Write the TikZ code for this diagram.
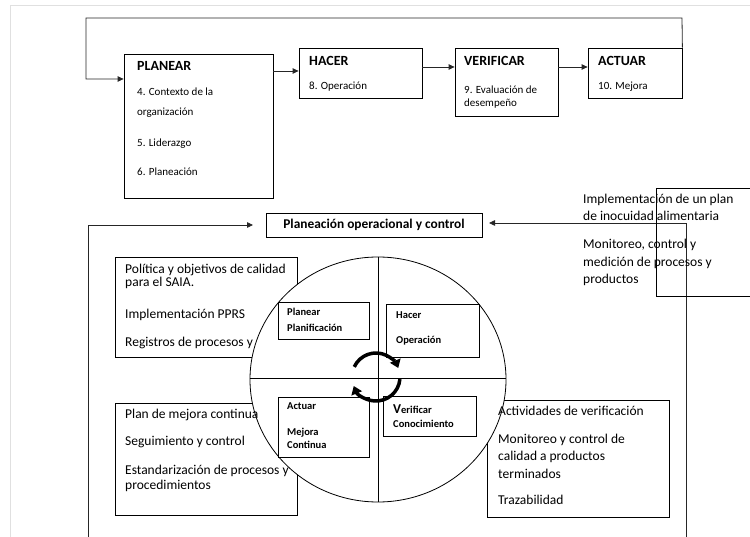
\documentclass[tikz,border=0pt]{standalone}
\usepackage{fontspec}
\setmainfont{Carlito}
\usetikzlibrary{arrows.meta,fit,shapes.geometric}
\begin{document}
\begin{tikzpicture}[x=1pt,y=-1pt,
  box/.style={draw=black,line width=0.8pt,inner sep=0pt},
  wbox/.style={box,fill=white},
  conn/.style={draw=black!85,line width=0.8pt},
  arr/.style={conn,-{Triangle[length=6pt,width=5.5pt]}},
  ttl/.style={anchor=mid west,inner sep=0pt,font=\fontsize{14}{16}\selectfont\bfseries},
  itm/.style={anchor=mid west,inner sep=0pt,font=\fontsize{11}{12}\selectfont},
  txt/.style={anchor=mid west,inner sep=0pt,font=\fontsize{13.5}{15}\selectfont},
  inl/.style={anchor=mid west,inner sep=0pt,font=\fontsize{10.5}{12}\selectfont\bfseries},
  carr/.style={draw=black,line width=3.5pt,-{Triangle[length=8pt,width=11pt]}}
]
\useasboundingbox (0,0) rectangle (750,537);
% page frame
\draw[black!12,line width=1pt] (10,537) -- (10,6) -- (750,6);

% ---------- top row ----------
\node[box,fit={(124,54) (273,198)}] (planear) {};
\node[box,fit={(299,48) (422,98)}] (hacer) {};
\node[box,fit={(455,48) (558,116)}] (verificar) {};
\node[box,fit={(588,48) (682,98)}] (actuar) {};

\node[ttl] (pT) at (137,68) {PLANEAR};
\node[itm] (p1) at (137,93) {4. Contexto de la};
\node[itm] (p2) at (137,113) {organización};
\node[itm] (p3) at (137,144) {5. Liderazgo};
\node[itm] (p4) at (137,173) {6. Planeación};

\node[ttl] (hT) at (309,63) {HACER};
\node[itm] (h1) at (309,87) {8. Operación};

\node[ttl] (vT) at (464,63) {VERIFICAR};
\node[itm] (v1) at (464,91) {9. Evaluación de};
\node[itm] (v2) at (464,104) {desempeño};

\node[ttl] (aT) at (598,63) {ACTUAR};
\node[itm] (a1) at (598,87) {10. Mejora};

\coordinate (ph) at (0,71);
\coordinate (hv) at (0,67);
\draw[arr] (planear.east |- ph) -- (hacer.west |- ph);
\draw[arr] (hacer.east |- hv) -- (verificar.west |- hv);
\draw[arr] (verificar.east |- hv) -- (actuar.west |- hv);

\coordinate (fbR) at (682,18);
\coordinate (fbL) at (86,18);
\coordinate (fbA) at (86,79);
\draw[arr] (actuar.north east) -- (fbR) -- (fbL) -- (fbA) -- (fbA -| planear.west);

% ---------- middle ----------
\node[box,fit={(266,213) (482,237)}] (poc) {};
\node[inner sep=0pt,font=\fontsize{13.4}{15}\selectfont\bfseries] (pocT) at (poc.center) {Planeación operacional y control};

\coordinate (lTop) at (88,225);
\coordinate (lBot) at (88,537);
\coordinate (lTip) at (253,225);
\draw[arr] (lBot) -- (lTop) -- (lTip);

\coordinate (rTop) at (686,223);
\coordinate (rBot) at (686,537);
\coordinate (rTip) at (489,223);
\draw[arr] (rBot) -- (rTop) -- (rTip);

% right text box (open on the right)
\coordinate (rb1) at (750,188);
\coordinate (rb2) at (656,188);
\coordinate (rb3) at (656,296);
\coordinate (rb4) at (750,296);
\draw[box] (rb1) -- (rb2) -- (rb3) -- (rb4);
\node[txt] (r1) at (583,201) {Implementación de un plan};
\node[txt] (r2) at (583,218) {de inocuidad alimentaria};
\node[txt] (r3) at (583,246) {Monitoreo, control y};
\node[txt] (r4) at (583,264) {medición de procesos y};
\node[txt] (r5) at (583,281) {productos};

% ---------- lower: outer boxes ----------
\node[box,fit={(115,257) (297,357)}] (tlbox) {};
\node[box,fit={(115,403) (297,515)}] (blbox) {};
\node[box,fit={(487,400) (669,517)}] (brbox) {};

\node[txt] (tl1) at (125,271) {Política y objetivos de calidad};
\node[txt] (tl2) at (125,284) {para el SAIA.};
\node[txt] (tl3) at (125,316) {Implementación PPRS};
\node[txt] (tl4) at (125,344) {Registros de procesos y};

% circle
\node[ellipse,draw=black,line width=0.8pt,fill=white,minimum width=256pt,minimum height=245pt,inner sep=0pt] (circ) at (378,379.5) {};
\draw[conn,black] (circ.north) -- (circ.south);
\draw[conn,black] (circ.west |- 0,378) -- (circ.east |- 0,378);

\node[txt] (bl1) at (125,416) {Plan de mejora continua};
\node[txt] (bl2) at (125,443) {Seguimiento y control};
\node[txt] (bl3) at (125,472) {Estandarización de procesos y};
\node[txt] (bl4) at (125,487) {procedimientos};

\node[txt] (br1) at (498,413) {Actividades de verificación};
\node[txt] (br2) at (498,441) {Monitoreo y control de};
\node[txt] (br3) at (498,458) {calidad a productos};
\node[txt] (br4) at (498,476) {terminados};
\node[txt] (br5) at (498,502) {Trazabilidad};

% inner quadrant boxes
\node[wbox,fit={(278,302) (369,339)}] (qP) {};
\node[inl] (qP1) at (287,313) {Planear};
\node[inl] (qP2) at (287,329) {Planificación};

\node[wbox,fit={(386,304) (479,357)}] (qH) {};
\node[inl] (qH1) at (396,316) {Hacer};
\node[inl] (qH2) at (396,341) {Operación};

\node[wbox,fit={(278,397) (369,457)}] (qA) {};
\node[inl] (qA1) at (287,407) {Actuar};
\node[inl] (qA2) at (287,433) {Mejora};
\node[inl] (qA3) at (287,446) {Continua};

\node[wbox,fit={(383,396) (476,436)}] (qV) {};
\node[inl] (qV1) at (393,411) {{\fontsize{13.5}{14}\selectfont V}erificar};
\node[inl] (qV2) at (393,425) {Conocimiento};

% central cycle arrows
\coordinate (cc) at (376,377);
\draw[carr] ([shift={(-155:24)}]cc) arc[start angle=-155,end angle=-22,radius=24];
\draw[carr] ([shift={(5:24)}]cc) arc[start angle=5,end angle=158,radius=24];
\end{tikzpicture}
\end{document}
